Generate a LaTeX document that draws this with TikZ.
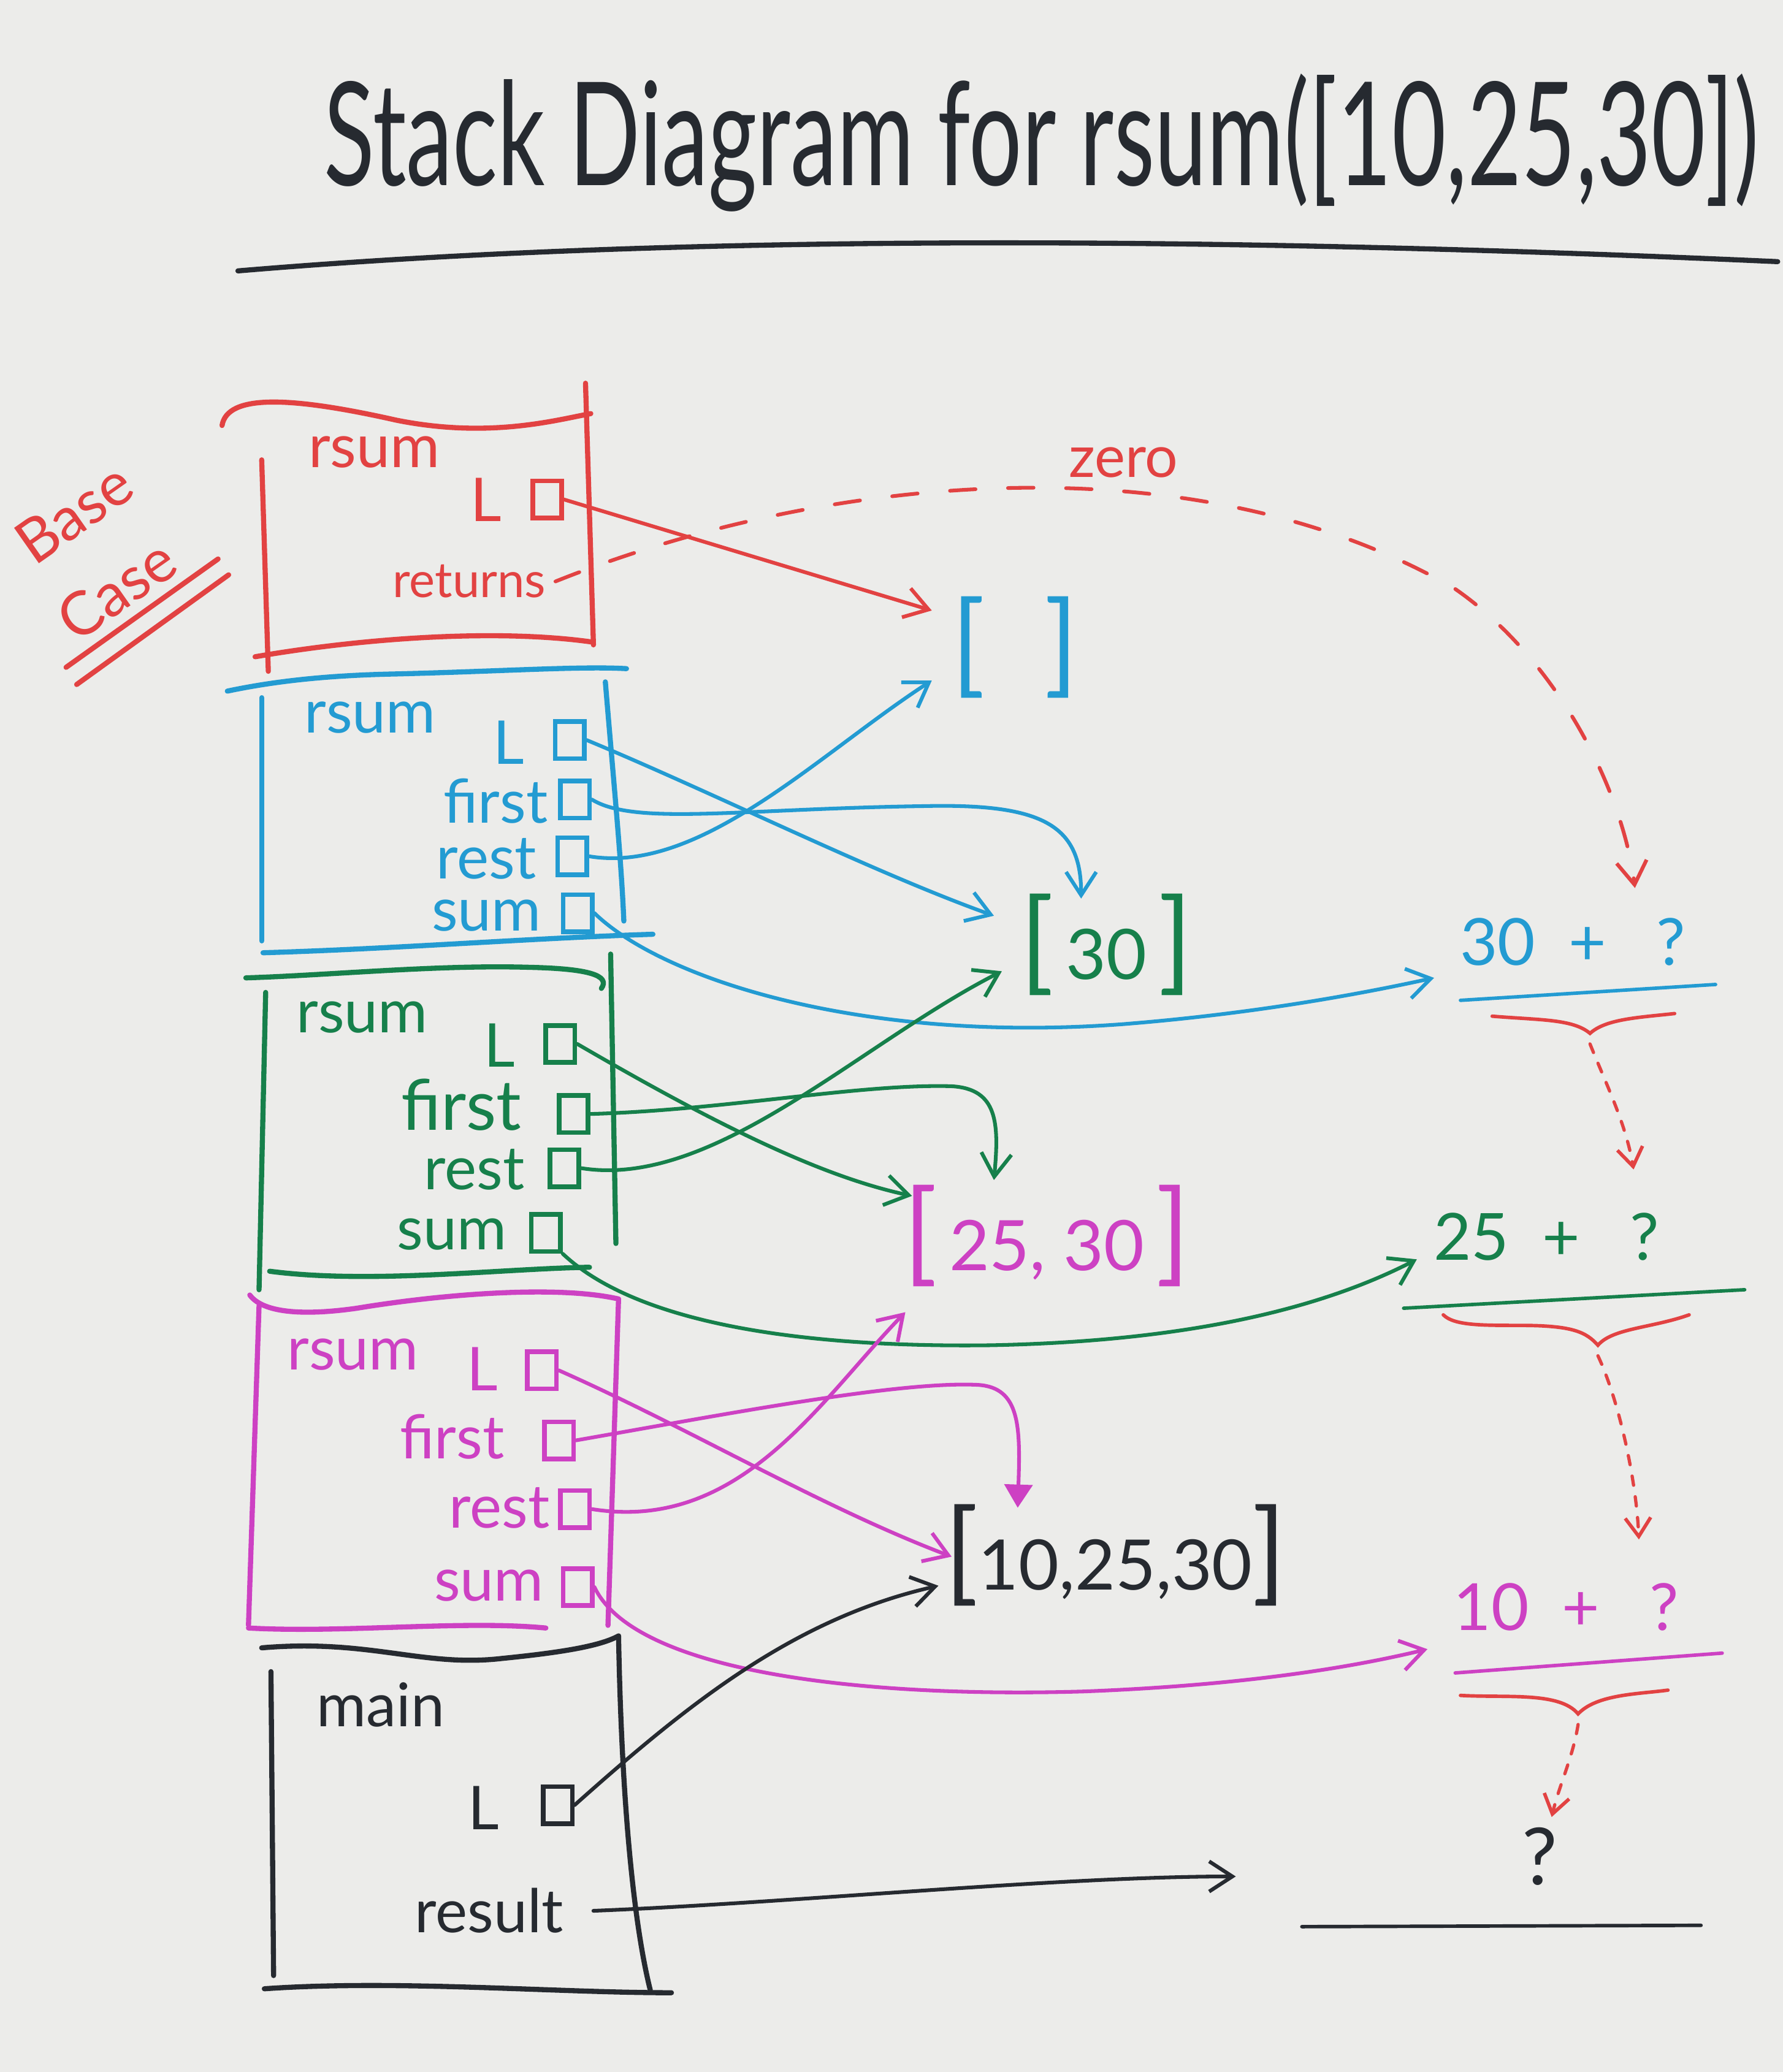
\documentclass[tikz,border=0pt]{standalone}
\usepackage{fontspec}
\setmainfont{Lato}
\usetikzlibrary{arrows.meta}
\definecolor{paper}{RGB}{236,236,234}
\definecolor{mred}{RGB}{226,66,66}
\definecolor{mblue}{RGB}{35,155,210}
\definecolor{mgreen}{RGB}{22,128,75}
\definecolor{mmag}{RGB}{205,65,195}
\definecolor{ink}{RGB}{38,42,48}
\newcommand{\lbk}{{\fontsize{48}{48}\selectfont[}}
\newcommand{\rbk}{{\fontsize{48}{48}\selectfont]}}
\tikzset{
  pen/.style={line width=2.2pt, line cap=round, line join=round},
  wire/.style={line width=1.6pt, line cap=round, -{Straight Barb[length=10pt,width=13pt,line width=1.6pt]}},
  lbl/.style={inner sep=0pt, font=\fontsize{26}{30}\selectfont},
  slot/.style={draw, line width=2pt, minimum width=0.44cm, minimum height=0.56cm, inner sep=0pt},
  val/.style={inner sep=0pt, font=\fontsize{30}{34}\selectfont},
  expr/.style={inner sep=0pt, font=\fontsize{28}{32}\selectfont},
  uline/.style={line width=1.5pt, line cap=round},
  dasharc/.style={line width=1.6pt, line cap=round, dash pattern=on 11pt off 14pt, -{Straight Barb[length=10pt,width=13pt,line width=1.6pt]}},
  dotarc/.style={line width=1.4pt, line cap=round, dash pattern=on 4pt off 5pt, -{Straight Barb[length=8pt,width=11pt,line width=1.5pt]}},
}
\begin{document}
\begin{tikzpicture}[x=0.02cm,y=-0.02cm]
\fill[paper] (0,0) rectangle (1349,1568);
\useasboundingbox (0,0) rectangle (1349,1568);

% title
\node[ink, inner sep=0pt, font=\fontsize{62}{62}\selectfont, xscale=0.65] (title) at (788,108) {Stack Diagram for rsum([10,25,30])};
\draw[pen,ink] (180,205) .. controls (500,178) and (900,178) .. (1345,198);

% base case label
\node[lbl, mred, rotate=35] (base) at (56,388) {Base};
\node[lbl, mred, rotate=35] (case) at (88,446) {Case};
\draw[pen,mred] (50,505) -- (165,423);
\draw[pen,mred] (58,518) -- (173,435);

% ---------- base case frame (red)
\draw[pen,mred] (168,322) .. controls (172,298) and (220,300) .. (300,318) .. controls (370,332) and (420,318) .. (447,313);
\draw[pen,mred] (443,290) -- (449,488);
\draw[pen,mred] (198,348) -- (203,508);
\draw[pen,mred] (193,497) .. controls (280,482) and (380,476) .. (449,486);
\node[lbl,mred] (rname) at (283,342) {rsum};
\node[lbl,mred] (rLl) at (368,378) {L};
\node[slot,mred] (rL) at (414,378) {};
\node[lbl,mred,font=\fontsize{21}{24}\selectfont] (rret) at (355,440) {returns};

% ---------- blue frame
\draw[pen,mblue] (172,523) .. controls (210,515) and (250,511) .. (300,510) .. controls (380,508) and (440,504) .. (474,506);
\draw[pen,mblue] (198,528) -- (198,712);
\draw[pen,mblue] (458,516) .. controls (465,600) and (470,650) .. (472,697);
\draw[pen,mblue] (199,721) .. controls (300,718) and (400,710) .. (494,707);
\node[lbl,mblue] (bname) at (280,543) {rsum};
\node[lbl,mblue] (bLl) at (385,562) {L};
\node[slot,mblue] (bL) at (431,560) {};
\node[lbl,mblue] (bfl) at (375,606) {first};
\node[slot,mblue] (bF) at (435,605) {};
\node[lbl,mblue] (brl) at (368,650) {rest};
\node[slot,mblue] (bR) at (433,648) {};
\node[lbl,mblue] (bsl) at (368,693) {sum};
\node[slot,mblue] (bS) at (437,691) {};

% ---------- green frame
\draw[pen,mgreen] (186,740) .. controls (250,738) and (330,730) .. (400,732) .. controls (445,733) and (462,738) .. (455,748);
\draw[pen,mgreen] (462,722) -- (466,941);
\draw[pen,mgreen] (201,751) -- (196,976);
\draw[pen,mgreen] (204,962) .. controls (280,972) and (380,960) .. (446,959);
\node[lbl,mgreen] (gname) at (274,770) {rsum};
\node[lbl,mgreen] (gLl) at (378,791) {L};
\node[slot,mgreen] (gL) at (424,790) {};
\node[lbl,mgreen,font=\fontsize{30}{34}\selectfont] (gfl) at (349,836) {first};
\node[slot,mgreen] (gF) at (434,843) {};
\node[lbl,mgreen] (grl) at (359,885) {rest};
\node[slot,mgreen] (gR) at (427,884) {};
\node[lbl,mgreen] (gsl) at (342,934) {sum};
\node[slot,mgreen] (gS) at (413,933) {};

% ---------- magenta frame
\draw[pen,mmag] (189,980) .. controls (200,995) and (235,995) .. (270,990) .. controls (330,980) and (420,972) .. (468,983);
\draw[pen,mmag] (468,983) -- (460,1230);
\draw[pen,mmag] (196,988) -- (188,1230);
\draw[pen,mmag] (188,1232) .. controls (260,1236) and (350,1226) .. (413,1232);
\node[lbl,mmag] (mname) at (267,1025) {rsum};
\node[lbl,mmag] (mLl) at (365,1036) {L};
\node[slot,mmag] (mL) at (410,1037) {};
\node[lbl,mmag] (mfl) at (342,1087) {first};
\node[slot,mmag] (mF) at (423,1090) {};
\node[lbl,mmag] (mrl) at (378,1141) {rest};
\node[slot,mmag] (mR) at (435,1142) {};
\node[lbl,mmag] (msl) at (370,1200) {sum};
\node[slot,mmag] (mS) at (437,1201) {};

% ---------- main frame (black)
\draw[pen,ink] (198,1247) .. controls (280,1240) and (320,1262) .. (380,1255) .. controls (430,1250) and (455,1245) .. (468,1238);
\draw[pen,ink] (468,1238) .. controls (470,1350) and (478,1450) .. (492,1506);
\draw[pen,ink] (205,1265) -- (207,1495);
\draw[pen,ink] (200,1505) .. controls (300,1498) and (420,1508) .. (508,1508);
\node[lbl,ink] (kname) at (288,1290) {main};
\node[lbl,ink] (kLl) at (366,1368) {L};
\node[slot,ink] (kL) at (422,1366) {};
\node[lbl,ink] (kres) at (370,1446) {result};

% ---------- list values
\node[val,mblue] (vE) at (768,490) {\lbk\hspace{0.9cm}\rbk};
\node[val,mgreen] (v30) at (837,715) {\lbk\,30\,\rbk};
\node[val,mmag] (v2530) at (792,935) {\lbk\,25, 30\,\rbk};
\node[val,ink] (v102530) at (844,1177) {\lbk10,25,30\rbk};

% ---------- right column
\node[expr,mblue] (e30) at (1190,713) {30 \ + \ \ ?};
\node[expr,mgreen] (e25) at (1170,936) {25 \ + \ \ ?};
\node[expr,mmag] (e10) at (1185,1216) {10 \ + \ \ ?};
\node[expr,ink,font=\fontsize{34}{36}\selectfont] (eq) at (1165,1405) {?};
\node[lbl,mred,font=\fontsize{25}{28}\selectfont] (zero) at (850,350) {zero};
\coordinate (resend) at (935,1420);

\draw[uline,mblue] (1105,757) -- (1298,745);
\draw[uline,mgreen] (1062,990) -- (1320,976);
\draw[uline,mmag] (1101,1266) -- (1303,1251);
\draw[uline,ink] (985,1458) -- (1287,1457);

\draw[uline,mred] (1129,769) .. controls (1165,772) and (1190,771) .. (1203,782) .. controls (1215,771) and (1240,770) .. (1267,767);
\draw[uline,mred] (1092,995) .. controls (1100,1003) and (1120,1003) .. (1150,1003) .. controls (1190,1003) and (1200,1008) .. (1209,1018) .. controls (1220,1005) and (1250,1005) .. (1278,995);
\draw[uline,mred] (1105,1283) .. controls (1140,1285) and (1180,1280) .. (1194,1297) .. controls (1208,1282) and (1240,1282) .. (1262,1279);
\coordinate (br30) at (1203,790);
\coordinate (br25) at (1209,1026);
\coordinate (br10) at (1194,1305);

% ---------- connectors: red
\draw[wire,mred] (rL.east) -- ([shift={(-63,-28)}]vE.center);
\draw[dasharc,mred] ([xshift=4pt]rret.east) .. controls (620,360) and (900,330) .. (1100,445) .. controls (1180,500) and (1228,600) .. ([shift={(47,-41)}]e30.center);
\draw[dotarc,mred] (br30) .. controls (1215,820) and (1230,850) .. ([shift={(66,-51)}]e25.center);
\draw[dotarc,mred] (br25) .. controls (1225,1060) and (1238,1120) .. ([shift={(55,-51)}]e10.center);
\draw[dotarc,mred] (br10) .. controls (1190,1330) and (1180,1350) .. ([shift={(9,-30)}]eq.center);

% blue
\draw[wire,mblue] (bL.east) .. controls (540,600) and (660,660) .. ([shift={(-85,-22)}]v30.center);
\draw[wire,mblue] (bF.east) .. controls (480,625) and (560,612) .. (700,610) .. controls (790,608) and (818,625) .. ([shift={(-19,-35)}]v30.center);
\draw[wire,mblue] (bR.east) .. controls (530,662) and (620,570) .. ([shift={(-63,25)}]vE.center);
\draw[wire,mblue] (bS.east) .. controls (500,740) and (650,790) .. (850,775) .. controls (950,767) and (1030,752) .. ([shift={(-105,27)}]e30.center);

% green
\draw[wire,mgreen] (gL.east) .. controls (540,850) and (620,890) .. ([shift={(-102,-30)}]v2530.center);
\draw[wire,mgreen] (gF.east) .. controls (550,840) and (650,820) .. (720,822) .. controls (755,824) and (756,850) .. ([shift={(-40,-42)}]v2530.center);
\draw[wire,mgreen] (gR.east) .. controls (540,900) and (650,790) .. ([shift={(-79,20)}]v30.center);
\draw[wire,mgreen] (gS.south east) .. controls (480,1000) and (600,1020) .. (750,1018) .. controls (900,1015) and (1000,990) .. ([shift={(-98,17)}]e25.center);

% magenta
\draw[wire,mmag] (mL.east) .. controls (520,1080) and (620,1140) .. ([shift={(-124,1)}]v102530.center);
\draw[line width=1.6pt, line cap=round, mmag, -{Triangle[length=10pt,width=12pt]}] (mF.east) .. controls (550,1070) and (680,1045) .. (740,1048) .. controls (772,1050) and (772,1080) .. ([shift={(-74,-36)}]v102530.center);
\draw[wire,mmag] (mR.east) .. controls (560,1160) and (620,1060) .. ([shift={(-107,58)}]v2530.center);
\draw[wire,mmag] (mS.east) .. controls (480,1265) and (650,1285) .. (820,1280) .. controls (950,1275) and (1030,1260) .. ([shift={(-105,32)}]e10.center);

% black
\draw[wire,ink] (kL.east) .. controls (520,1290) and (600,1225) .. ([shift={(-134,23)}]v102530.center);
\draw[wire,ink] ([xshift=0.45cm]kres.east) .. controls (600,1440) and (800,1420) .. (resend);
\end{tikzpicture}
\end{document}
